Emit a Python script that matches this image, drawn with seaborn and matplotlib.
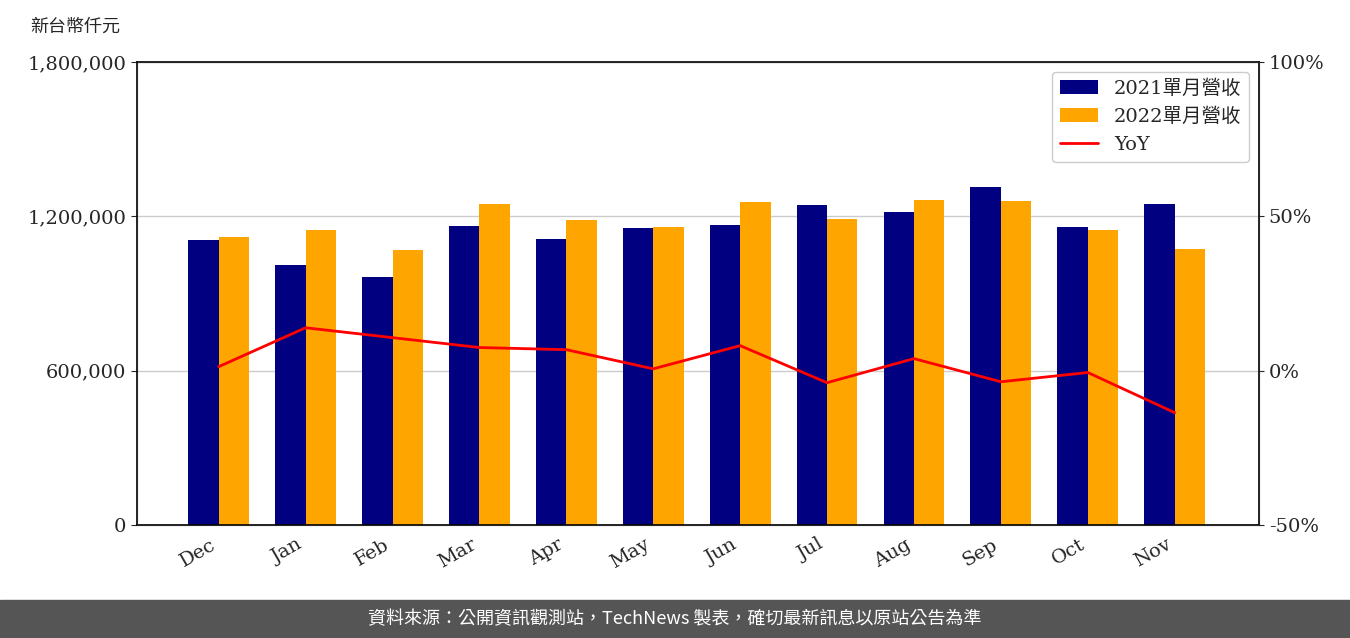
import matplotlib
matplotlib.use("Agg")
import matplotlib.pyplot as plt
import seaborn as sns
import numpy as np
import pandas as pd

months = ["Dec","Jan","Feb","Mar","Apr","May","Jun","Jul","Aug","Sep","Oct","Nov"]
rev2021 = [1108000,1011000,964000,1162000,1112000,1155000,1166000,1244000,1217000,1314000,1158000,1248000]
rev2022 = [1120000,1147000,1069000,1248000,1186000,1158000,1256000,1190000,1264000,1260000,1147000,1073000]
yoy = [1.3,13.9,10.7,7.5,6.8,0.6,8.1,-3.9,3.9,-3.6,-0.6,-13.6]

sns.set_style("white")
plt.rcParams['font.family'] = ['DejaVu Serif', 'Noto Sans CJK TC']

fig = plt.figure(figsize=(13.5, 6.38), dpi=100)
ax = fig.add_axes([137/1350, 1-525/638, (1259-137)/1350, (525-62)/638])

df = pd.DataFrame({"month": months*2,
                   "value": rev2021+rev2022,
                   "series": ["2021單月營收"]*12 + ["2022單月營收"]*12})
sns.barplot(data=df, x="month", y="value", hue="series", ax=ax,
            palette=["#000080", "#FFA500"], width=0.7, saturation=1, legend=True,
            edgecolor="none", linewidth=0)
ax.set_ylim(0, 1800000)
ax.set_yticks([0,600000,1200000,1800000])
ax.set_yticklabels(["0","600,000","1,200,000","1,800,000"], fontsize=14)
ax.yaxis.grid(True, color="#cccccc", linewidth=1)
ax.set_axisbelow(True)
ax.set_xlabel(""); ax.set_ylabel("")
ax.set_xlim(-0.94, 11.97)
plt.setp(ax.get_xticklabels(), rotation=30, ha="right", fontsize=14)
for s in ax.spines.values():
    s.set_color("black"); s.set_linewidth(1.2)

ax2 = ax.twinx()
ax2.plot(range(12), yoy, color="red", linewidth=2, label="YoY")
ax2.set_ylim(-50, 100)
ax2.set_yticks([-50,0,50,100])
ax2.set_yticklabels(["-50%","0%","50%","100%"], fontsize=14)

h1, l1 = ax.get_legend_handles_labels()
h2, l2 = ax2.get_legend_handles_labels()
ax.get_legend().remove()
ax2.legend(h1+h2, l1+l2, loc="upper right", fontsize=14, framealpha=1)

ax.tick_params(axis="both", length=4)
fig.text(30/1350, 1-27/638, "新台幣仟元", fontsize=13, va="center", family=['Noto Sans CJK TC'])

fig.patches.append(matplotlib.patches.Rectangle((0, 0), 1, 38/638, transform=fig.transFigure,
                                                 color="#555555", zorder=0))
fig.text(0.5, 19/638, "資料來源：公開資訊觀測站，TechNews 製表，確切最新訊息以原站公告為準",
         color="white", fontsize=13, ha="center", va="center", family=['Noto Sans CJK TC', 'DejaVu Sans'])
fig.savefig("out.png", dpi=100)
